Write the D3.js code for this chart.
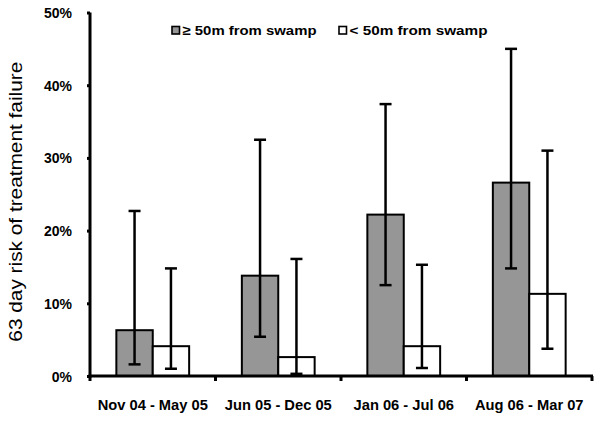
<!DOCTYPE html>
<html><head><meta charset="utf-8">
<script src="https://cdn.jsdelivr.net/npm/d3@7"></script>
<style>body{margin:0;background:#fff}svg{display:block}</style>
</head><body>
<svg id="c" width="601" height="428"></svg>
<script>
const categories = ["Nov 04 - May 05","Jun 05 - Dec 05","Jan 06 - Jul 06","Aug 06 - Mar 07"];
const seriesNames = ["\u2265 50m from swamp","< 50m from swamp"];
const farValues = [6.3, 13.8, 22.2, 26.6];
const farLow = [1.6, 5.4, 12.5, 14.8];
const farHigh = [22.7, 32.5, 37.4, 45.0];
const nearValues = [4.1, 2.6, 4.1, 11.3];
const nearLow = [1.0, 0.3, 1.1, 3.75];
const nearHigh = [14.8, 16.1, 15.3, 31.0];
const yTicks = [0, 10, 20, 30, 40, 50];
const yTitle = "63 day risk of treatment  failure";

const svg = d3.select("#c");
const font = "'Liberation Sans', Arial, sans-serif";
const x = d3.scaleBand().domain(categories).range([90, 592]).paddingInner(0).paddingOuter(0);
const y = d3.scaleLinear().domain([0, 50]).range([376, 12.5]);
const barW = x.bandwidth() * 0.29;
const fills = ["#969696", "#ffffff"];

const series = [
  {vals: farValues, lo: farLow, hi: farHigh},
  {vals: nearValues, lo: nearLow, hi: nearHigh}
];

series.forEach((s, si) => {
  const g = svg.append("g");
  categories.forEach((c, i) => {
    const cx = x(c) + x.bandwidth() / 2;
    const bx = si === 0 ? cx - barW : cx;
    g.append("rect").attr("x", bx).attr("y", y(s.vals[i]))
      .attr("width", barW).attr("height", y(0) - y(s.vals[i]))
      .attr("fill", fills[si]).attr("stroke", "#000").attr("stroke-width", 2);
    const ex = bx + barW / 2;
    g.append("line").attr("x1", ex).attr("x2", ex).attr("y1", y(s.lo[i])).attr("y2", y(s.hi[i]))
      .attr("stroke", "#000").attr("stroke-width", 2.5);
    [s.lo[i], s.hi[i]].forEach(v => {
      g.append("line").attr("x1", ex - 6).attr("x2", ex + 6).attr("y1", y(v)).attr("y2", y(v))
        .attr("stroke", "#000").attr("stroke-width", 2.5);
    });
  });
});

// Y axis
const yAxis = d3.axisLeft(y).tickValues(yTicks).tickFormat(d => d + "%").tickSize(3).tickPadding(15);
const ya = svg.append("g").attr("transform", "translate(90,0)").call(yAxis);
ya.select(".domain").attr("stroke", "#000").attr("stroke-width", 3).attr("d", `M0,${y(50)}V${y(0)+1.5}`);
ya.selectAll(".tick line").attr("stroke", "#000").attr("stroke-width", 3);
ya.selectAll(".tick text").attr("font-family", font).attr("font-weight", "bold")
  .attr("font-size", "14px").attr("fill", "#000").attr("dy", "0.36em");

// X axis
const xAxis = d3.axisBottom(x).tickSize(0).tickPadding(23.5);
const xa = svg.append("g").attr("transform", `translate(0,${y(0)})`).call(xAxis);
xa.select(".domain").attr("stroke", "#000").attr("stroke-width", 3).attr("d", "M88.5,0H593");
xa.selectAll(".tick text").attr("font-family", font).attr("font-weight", "bold")
  .attr("font-size", "14.7px").attr("fill", "#000");
// category boundary ticks
const bounds = categories.map(c => x(c)).concat([x(categories[categories.length-1]) + x.bandwidth()]);
xa.selectAll("line.bt").data(bounds).enter().append("line").attr("class","bt")
  .attr("x1", d => d).attr("x2", d => d).attr("y1", 0).attr("y2", 5)
  .attr("stroke", "#000").attr("stroke-width", 3);

// Y title
svg.append("text").attr("transform", "translate(21.5,201.7) rotate(-90)")
  .attr("text-anchor", "middle").attr("font-family", font).attr("font-size", "19px")
  .attr("fill", "#000").attr("textLength", 280).attr("lengthAdjust", "spacingAndGlyphs").text(yTitle);

// Legend
const legX = [172, 339];
seriesNames.forEach((n, i) => {
  svg.append("rect").attr("x", legX[i]).attr("y", 26.5).attr("width", 7.5).attr("height", 7.5)
    .attr("fill", fills[i]).attr("stroke", "#000").attr("stroke-width", 1.6);
  svg.append("text").attr("x", legX[i] + 10.5).attr("y", 34.5)
    .attr("font-family", font).attr("font-weight", "bold").attr("font-size", "13.5px")
    .attr("fill", "#000").attr("textLength", i === 0 ? 134 : 138).attr("lengthAdjust", "spacingAndGlyphs").text(n);
});
</script>
</body></html>
